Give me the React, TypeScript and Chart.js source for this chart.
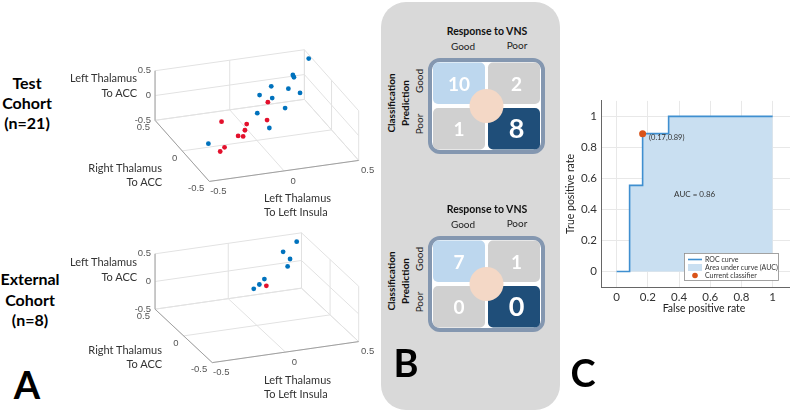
import React, { useEffect, useRef } from 'react';
import { Chart, registerables } from 'chart.js';

Chart.register(...registerables);

// ---------------- Panel A data ----------------
// x: Left Thalamus -> Left Insula, y: Right Thalamus -> ACC, z: Left Thalamus -> ACC
const TEST_BLUE_X = [0.5, 0.35, 0.35, 0.18, 0.28, 0.34, 0.08, 0.15, 0.2, 0.01, 0.04, -0.39];
const TEST_BLUE_Y = [0.42, 0.3, 0.28, 0.23, 0.19, 0.14, 0.17, 0.13, 0.03, 0.02, -0.12, -0.18];
const TEST_BLUE_Z = [0.42, 0.3, 0.28, 0.23, 0.19, 0.14, 0.17, 0.13, 0.03, 0.02, -0.12, -0.18];
const TEST_RED_X = [0.11, -0.24, 0.05, -0.09, -0.12, -0.18, -0.15, -0.3, -0.34];
const TEST_RED_Y = [0.1, -0.01, -0.05, -0.06, -0.11, -0.15, -0.16, -0.23, -0.26];
const TEST_RED_Z = [0.1, -0.01, -0.05, -0.06, -0.11, -0.15, -0.16, -0.23, -0.26];

const EXT_BLUE_X = [0.44, 0.32, 0.34, 0.3, 0.11, 0.06, 0.01];
const EXT_BLUE_Y = [0.43, 0.36, 0.29, 0.23, 0.15, 0.11, 0.08];
const EXT_BLUE_Z = [0.43, 0.36, 0.29, 0.23, 0.15, 0.11, 0.08];
const EXT_RED_X = [0.1];
const EXT_RED_Y = [0.09];
const EXT_RED_Z = [0.09];

const AXIS_TICKS_3D = [-0.5, 0, 0.5];
const AXIS_TICK_LABELS_3D = ['-0.5', '0', '0.5'];

// ---------------- Panel B data ----------------
const RESPONSE_LABELS = ['Good', 'Poor'];
const TEST_MATRIX = [
  [10, 2],
  [1, 8],
];
const EXTERNAL_MATRIX = [
  [7, 1],
  [0, 0],
];

// ---------------- Panel C data ----------------
const ROC_FPR = [0, 0.0833, 0.0833, 0.1667, 0.1667, 0.3333, 0.3333, 1];
const ROC_TPR = [0, 0, 0.5556, 0.5556, 0.8889, 0.8889, 1, 1];
const CLASSIFIER_POINT = [0.1667, 0.8889];
const CLASSIFIER_LABEL = '(0.17,0.89)';
const AUC_LABEL = 'AUC = 0.86';
const AUC_LABEL_POS = [0.5, 0.5];
const ROC_TICKS = [0, 0.2, 0.4, 0.6, 0.8, 1];
const ROC_TICK_LABELS = ['0', '0.2', '0.4', '0.6', '0.8', '1'];
const LEGEND_LABELS = ['ROC curve', 'Area under curve (AUC)', 'Current classifier'];

// ---------------- styles ----------------
const BLUE = '#0072bd';
const RED = '#e3102c';
const ROC_LINE = '#3f8fd0';
const ROC_FILL = '#c9dff1';
const ORANGE = '#d95319';
const CELL_COLORS = [
  ['#bdd7ee', '#d0d0d0'],
  ['#d0d0d0', '#1f4e79'],
];
const FONT = 'Lato, "Liberation Sans", sans-serif';

type Geo = {
  left: number; top: number; w: number; h: number;
  cx: number; cy: number;
  ex: [number, number]; ey: [number, number]; ez: [number, number];
};

const GEO_TEST: Geo = { left: 120, top: 40, w: 265, h: 175, cx: 137, cy: 75, ex: [154, -22], ey: [-56, -64], ez: [0, -52] };
const GEO_EXT: Geo = { left: 120, top: 225, w: 265, h: 175, cx: 137, cy: 72, ex: [151, -22], ey: [-59, -56], ez: [0, -58] };

type Series = { x: number[]; y: number[]; z: number[] };

function Scatter3D({ geo, blue, red }: { geo: Geo; blue: Series; red: Series }) {
  const ref = useRef<HTMLCanvasElement>(null);
  useEffect(() => {
    const proj = (x: number, y: number, z: number) => ({
      x: geo.cx + x * geo.ex[0] + y * geo.ey[0] + z * geo.ez[0],
      y: geo.cy + x * geo.ex[1] + y * geo.ey[1] + z * geo.ez[1],
    });
    const toData = (s: Series) => s.x.map((v, i) => proj(v, s.y[i], s.z[i]));
    const lo = AXIS_TICKS_3D[0];
    const hi = AXIS_TICKS_3D[AXIS_TICKS_3D.length - 1];
    const plugin = {
      id: 'box3d',
      beforeDatasetsDraw(chart: any) {
        const { ctx } = chart;
        const xs = chart.scales.x;
        const ys = chart.scales.y;
        const P = (x: number, y: number, z: number) => {
          const p = proj(x, y, z);
          return [xs.getPixelForValue(p.x), ys.getPixelForValue(p.y)];
        };
        const seg = (a: number[], b: number[]) => {
          ctx.moveTo(a[0], a[1]);
          ctx.lineTo(b[0], b[1]);
        };
        ctx.save();
        ctx.lineWidth = 1;
        ctx.strokeStyle = '#e2e2e2';
        ctx.beginPath();
        for (const t of AXIS_TICKS_3D) {
          seg(P(t, lo, lo), P(t, hi, lo));
          seg(P(lo, t, lo), P(hi, t, lo));
          seg(P(t, hi, lo), P(t, hi, hi));
          seg(P(lo, hi, t), P(hi, hi, t));
          seg(P(hi, t, lo), P(hi, t, hi));
          seg(P(hi, lo, t), P(hi, hi, t));
        }
        ctx.stroke();
        ctx.strokeStyle = '#a0a0a0';
        ctx.beginPath();
        seg(P(lo, hi, lo), P(lo, hi, hi));
        seg(P(lo, hi, lo), P(lo, lo, lo));
        seg(P(lo, lo, lo), P(hi, lo, lo));
        ctx.stroke();
        ctx.fillStyle = '#555';
        ctx.font = '9.5px "Liberation Sans", Arial, sans-serif';
        ctx.textBaseline = 'middle';
        AXIS_TICKS_3D.forEach((t, i) => {
          const lab = AXIS_TICK_LABELS_3D[i];
          ctx.textAlign = 'right';
          let p = P(lo, hi, t);
          ctx.fillText(lab, p[0] - 4, p[1]);
          p = P(lo, t, lo);
          ctx.fillText(lab, p[0] - 5, p[1] + 7);
          ctx.textAlign = 'center';
          p = P(t, lo, lo);
          ctx.fillText(lab, p[0] + 9, p[1] + 10);
        });
        ctx.restore();
      },
    };
    const chart = new Chart(ref.current as HTMLCanvasElement, {
      type: 'scatter',
      data: {
        datasets: [
          { data: toData(blue), backgroundColor: BLUE, borderWidth: 0, pointRadius: 2.4 },
          { data: toData(red), backgroundColor: RED, borderWidth: 0, pointRadius: 2.4 },
        ],
      },
      options: {
        responsive: false,
        animation: false,
        events: [],
        layout: { padding: 0 },
        plugins: { legend: { display: false }, tooltip: { enabled: false } },
        scales: {
          x: { type: 'linear', min: 0, max: geo.w, display: false },
          y: { type: 'linear', min: 0, max: geo.h, reverse: true, display: false },
        },
      } as any,
      plugins: [plugin],
    });
    return () => chart.destroy();
  }, []);
  return (
    <canvas
      ref={ref}
      width={geo.w}
      height={geo.h}
      style={{ position: 'absolute', left: geo.left, top: geo.top, width: geo.w, height: geo.h }}
    />
  );
}

function MatrixChart({ values, top }: { values: number[][]; top: number }) {
  const ref = useRef<HTMLCanvasElement>(null);
  useEffect(() => {
    const pts: { x: number; y: number }[] = [];
    values.forEach((row, r) => row.forEach((_v, c) => pts.push({ x: c, y: r })));
    const rr = (ctx: CanvasRenderingContext2D, x: number, y: number, w: number, h: number, r: number) => {
      ctx.beginPath();
      ctx.moveTo(x + r, y);
      ctx.lineTo(x + w - r, y);
      ctx.arcTo(x + w, y, x + w, y + r, r);
      ctx.lineTo(x + w, y + h - r);
      ctx.arcTo(x + w, y + h, x + w - r, y + h, r);
      ctx.lineTo(x + r, y + h);
      ctx.arcTo(x, y + h, x, y + h - r, r);
      ctx.lineTo(x, y + r);
      ctx.arcTo(x, y, x + r, y, r);
      ctx.closePath();
    };
    const plugin = {
      id: 'cmatrix',
      afterDatasetsDraw(chart: any) {
        const { ctx } = chart;
        const X = (v: number) => chart.scales.x.getPixelForValue(v);
        const Y = (v: number) => chart.scales.y.getPixelForValue(v);
        ctx.save();
        const fl = X(-0.5) - 1.5, ft = Y(-0.5) - 0.5, fr = X(1.5) + 1.5, fb = Y(1.5) + 0.5;
        rr(ctx, fl, ft, fr - fl, fb - ft, 10);
        ctx.fillStyle = '#ffffff';
        ctx.fill();
        ctx.lineWidth = 4;
        ctx.strokeStyle = '#8497b0';
        ctx.stroke();
        values.forEach((row, r) =>
          row.forEach((_v, c) => {
            const l = X(c - 0.5) + 1.5, rt = X(c + 0.5) - 1.5;
            const t = Y(r - 0.5) + 2, b = Y(r + 0.5) - 2;
            rr(ctx, l, t, rt - l, b - t, 5);
            ctx.fillStyle = CELL_COLORS[r][c];
            ctx.fill();
          })
        );
        ctx.beginPath();
        ctx.arc(X(0.5), Y(0.5), 17, 0, Math.PI * 2);
        ctx.fillStyle = '#f4d8c6';
        ctx.fill();
        ctx.fillStyle = '#ffffff';
        ctx.textAlign = 'center';
        ctx.textBaseline = 'middle';
        values.forEach((row, r) =>
          row.forEach((v, c) => {
            const big = r === 1 && c === 1;
            ctx.font = `bold ${big ? 27 : 19}px ${FONT}`;
            ctx.fillText(String(v), X(c) + c * 2.5, Y(r) + 1.5 - r * 0.5);
          })
        );
        ctx.restore();
      },
    };
    const chart = new Chart(ref.current as HTMLCanvasElement, {
      type: 'scatter',
      data: { datasets: [{ data: pts, pointRadius: 0 }] },
      options: {
        responsive: false,
        animation: false,
        events: [],
        layout: { padding: 0 },
        plugins: { legend: { display: false }, tooltip: { enabled: false } },
        scales: {
          x: { type: 'linear', min: -0.6, max: 1.6, display: false },
          y: { type: 'linear', min: -0.6, max: 1.6, reverse: true, display: false },
        },
      } as any,
      plugins: [plugin],
    });
    return () => chart.destroy();
  }, []);
  return (
    <canvas ref={ref} width={121} height={100} style={{ position: 'absolute', left: 426, top, width: 121, height: 100 }} />
  );
}

function RocChart() {
  const ref = useRef<HTMLCanvasElement>(null);
  useEffect(() => {
    const rocData = ROC_FPR.map((x, i) => ({ x, y: ROC_TPR[i] }));
    const plugin = {
      id: 'rocDecor',
      afterDatasetsDraw(chart: any) {
        const { ctx, chartArea: ca } = chart;
        const xs = chart.scales.x;
        const ys = chart.scales.y;
        ctx.save();
        ctx.fillStyle = '#333';
        ctx.textBaseline = 'middle';
        ctx.textAlign = 'left';
        ctx.font = `7.5px ${FONT}`;
        ctx.fillText(CLASSIFIER_LABEL, xs.getPixelForValue(CLASSIFIER_POINT[0]) + 6.5, ys.getPixelForValue(CLASSIFIER_POINT[1]) + 4);
        ctx.textAlign = 'center';
        ctx.font = `8px ${FONT}`;
        ctx.fillText(AUC_LABEL, xs.getPixelForValue(AUC_LABEL_POS[0]), ys.getPixelForValue(AUC_LABEL_POS[1]));
        // legend
        const bx = ca.right - 123, by = ca.bottom - 34, bw = 94, bh = 27;
        ctx.fillStyle = '#fff';
        ctx.fillRect(bx, by, bw, bh);
        ctx.strokeStyle = '#8c8c8c';
        ctx.lineWidth = 0.8;
        ctx.strokeRect(bx + 0.5, by + 0.5, bw, bh);
        const rows = [by + 6.5, by + 14.5, by + 22.5];
        ctx.strokeStyle = ROC_LINE;
        ctx.lineWidth = 1.6;
        ctx.beginPath();
        ctx.moveTo(bx + 4, rows[0]);
        ctx.lineTo(bx + 18, rows[0]);
        ctx.stroke();
        ctx.fillStyle = ROC_FILL;
        ctx.fillRect(bx + 4, rows[1] - 3.5, 14, 7);
        ctx.fillStyle = ORANGE;
        ctx.beginPath();
        ctx.arc(bx + 11, rows[2], 2.8, 0, Math.PI * 2);
        ctx.fill();
        ctx.fillStyle = '#333';
        ctx.textAlign = 'left';
        ctx.font = `7px ${FONT}`;
        LEGEND_LABELS.forEach((l, i) => ctx.fillText(l, bx + 21, rows[i]));
        ctx.restore();
      },
    };
    const tickCb = (_v: any, i: number) => ROC_TICK_LABELS[i] ?? '';
    const chart = new Chart(ref.current as HTMLCanvasElement, {
      type: 'line',
      data: {
        datasets: [
          {
            type: 'scatter',
            label: LEGEND_LABELS[2],
            data: [{ x: CLASSIFIER_POINT[0], y: CLASSIFIER_POINT[1] }],
            backgroundColor: ORANGE,
            borderColor: ORANGE,
            borderWidth: 0,
            pointRadius: 3.5,
          },
          {
            label: LEGEND_LABELS[0],
            data: rocData,
            borderColor: ROC_LINE,
            backgroundColor: ROC_FILL,
            fill: 'origin',
            borderWidth: 1.6,
            pointRadius: 0,
            tension: 0,
          },
        ],
      } as any,
      options: {
        responsive: false,
        animation: false,
        events: [],
        layout: { padding: { top: 7, right: 0, left: 0, bottom: 0 } },
        plugins: { legend: { display: false }, tooltip: { enabled: false } },
        scales: {
          x: {
            type: 'linear',
            min: -0.1,
            max: 1.22,
            afterBuildTicks: (s: any) => { s.ticks = ROC_TICKS.map((v) => ({ value: v })); },
            afterFit: (s: any) => { s.height = 33; },
            ticks: { callback: tickCb, font: { family: FONT, size: 11.5 }, color: '#333', padding: 3, maxRotation: 0, autoSkip: false },
            grid: { color: '#e8e8e8', drawTicks: false },
            border: { color: '#666', width: 1 },
            title: { display: true, text: 'False positive rate', font: { family: FONT, size: 10.5 }, color: '#222', padding: { top: 0, bottom: 5 } },
          },
          y: {
            type: 'linear',
            min: -0.1,
            max: 1.1,
            afterBuildTicks: (s: any) => { s.ticks = ROC_TICKS.map((v) => ({ value: v })); },
            afterFit: (s: any) => { s.width = 45; },
            ticks: { callback: tickCb, font: { family: FONT, size: 11.5 }, color: '#333', padding: 4, autoSkip: false },
            grid: { color: '#e8e8e8', drawTicks: false },
            border: { color: '#666', width: 1 },
            title: { display: true, text: 'True positive rate', font: { family: FONT, size: 10.5 }, color: '#222', padding: { top: 8, bottom: 0 } },
          },
        },
      } as any,
      plugins: [plugin],
    });
    return () => chart.destroy();
  }, []);
  return <canvas ref={ref} width={255} height={230} style={{ position: 'absolute', left: 556, top: 90, width: 255, height: 230 }} />;
}

type TProps = {
  x: number; y: number; t: string; size: number; bold?: boolean;
  align?: 'left' | 'center' | 'right'; rot?: boolean; color?: string;
};
function T({ x, y, t, size, bold, align = 'center', rot, color = '#222' }: TProps) {
  const tx = align === 'left' ? '0' : align === 'right' ? '-100%' : '-50%';
  return (
    <div
      style={{
        position: 'absolute',
        left: x,
        top: y,
        transform: `translate(${tx},-50%)` + (rot ? ' rotate(-90deg)' : ''),
        fontFamily: FONT,
        fontSize: size,
        fontWeight: bold ? 700 : 400,
        lineHeight: 1,
        whiteSpace: 'nowrap',
        color,
      }}
    >
      {t}
    </div>
  );
}

function AxisTitles({ dy, ry }: { dy: number; ry: number }) {
  return (
    <>
      <T x={137} y={77 + dy} t="Left Thalamus" size={11} align="right" color="#333" />
      <T x={137} y={92 + dy} t="To ACC" size={11} align="right" color="#333" />
      <T x={162} y={167 + ry} t="Right Thalamus" size={11} align="right" color="#333" />
      <T x={162} y={181 + ry} t="To ACC" size={11} align="right" color="#333" />
      <T x={264} y={197 + ry} t="Left Thalamus" size={11} align="left" color="#333" />
      <T x={264} y={211 + ry} t="To Left Insula" size={11} align="left" color="#333" />
    </>
  );
}

function MatrixLabels({ dy }: { dy: number }) {
  return (
    <>
      <T x={487} y={31 + dy} t="Response to VNS" size={10.5} bold color="#111" />
      <T x={463} y={46 + dy} t={RESPONSE_LABELS[0]} size={10} color="#222" />
      <T x={517} y={45 + dy} t={RESPONSE_LABELS[1]} size={10} color="#222" />
      <T x={391} y={103 + dy} t="Classification" size={10} bold rot color="#111" />
      <T x={405} y={103 + dy} t="Prediction" size={10} bold rot color="#111" />
      <T x={419} y={81 + dy} t={RESPONSE_LABELS[0]} size={10} rot color="#222" />
      <T x={419} y={124 + dy} t={RESPONSE_LABELS[1]} size={10} rot color="#222" />
    </>
  );
}

export default function App() {
  return (
    <div
      style={{
        position: 'fixed',
        left: 0,
        top: 0,
        width: 790,
        height: 414,
        overflow: 'hidden',
        background: '#ffffff',
      }}
    >
      <div style={{ position: 'absolute', left: 381, top: 2, width: 179, height: 408, borderRadius: 25, background: '#d9d9d9' }} />
      <Scatter3D geo={GEO_TEST} blue={{ x: TEST_BLUE_X, y: TEST_BLUE_Y, z: TEST_BLUE_Z }} red={{ x: TEST_RED_X, y: TEST_RED_Y, z: TEST_RED_Z }} />
      <Scatter3D geo={GEO_EXT} blue={{ x: EXT_BLUE_X, y: EXT_BLUE_Y, z: EXT_BLUE_Z }} red={{ x: EXT_RED_X, y: EXT_RED_Y, z: EXT_RED_Z }} />
      <MatrixChart values={TEST_MATRIX} top={56} />
      <MatrixChart values={EXTERNAL_MATRIX} top={234} />
      <RocChart />

      <T x={27} y={83} t="Test" size={16} bold color="#000" />
      <T x={27} y={103} t="Cohort" size={16} bold color="#000" />
      <T x={27} y={123} t="(n=21)" size={16} bold color="#000" />
      <T x={30} y={279} t="External" size={16} bold color="#000" />
      <T x={30} y={300} t="Cohort" size={16} bold color="#000" />
      <T x={30} y={320} t="(n=8)" size={16} bold color="#000" />

      <AxisTitles dy={0} ry={0} />
      <AxisTitles dy={184} ry={182} />

      <MatrixLabels dy={0} />
      <MatrixLabels dy={178} />

      <T x={27} y={384} t="A" size={38} bold color="#000" />
      <T x={406} y={362} t="B" size={38} bold color="#000" />
      <T x={583} y={372} t="C" size={38} bold color="#000" />
    </div>
  );
}
